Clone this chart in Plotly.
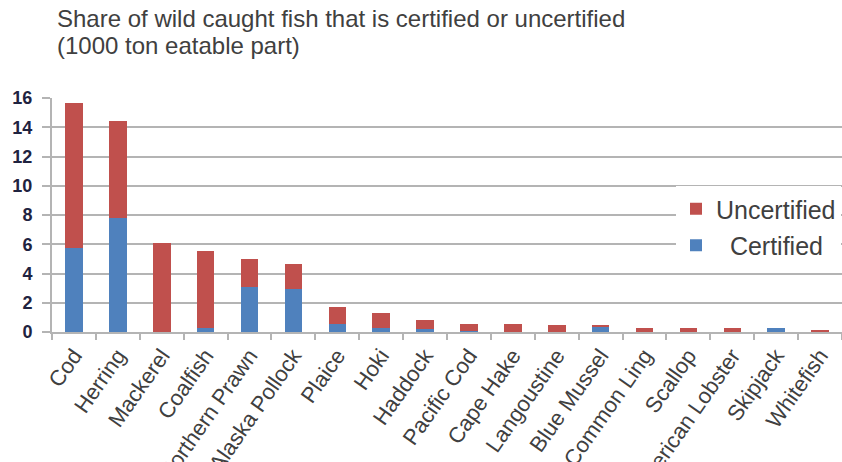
import plotly.graph_objects as go

# Wild caught fish, 1000 ton eatable part
species = ["Cod", "Herring", "Mackerel", "Coalfish", "Northern Prawn",
           "Alaska Pollock", "Plaice", "Hoki", "Haddock", "Pacific Cod",
           "Cape Hake", "Langoustine", "Blue Mussel", "Common Ling",
           "Scallop", "American Lobster", "Skipjack", "Whitefish"]
certified = [5.75, 7.8, 0.0, 0.3, 3.05, 2.95, 0.55, 0.3, 0.2, 0.05,
             0.0, 0.0, 0.4, 0.0, 0.0, 0.0, 0.3, 0.0]
uncertified = [9.9, 6.6, 6.1, 5.25, 1.95, 1.7, 1.15, 1.0, 0.6, 0.5,
               0.55, 0.45, 0.06, 0.3, 0.3, 0.28, 0.0, 0.08]
y_ticks = [0, 2, 4, 6, 8, 10, 12, 14, 16]

RED = "#C0504D"
BLUE = "#4F81BD"
GRID = "#B4B4B4"
TEXT = "#404040"
FONT = "Liberation Sans, Arial, sans-serif"

W, H = 842, 462
ML, MR, MT, MB = 52, 0, 98, 130
plot_w = W - ML - MR
plot_h = H - MT - MB

fig = go.Figure()
fig.add_trace(go.Bar(x=species, y=certified, name="\u00a0\u00a0Certified",
                     marker=dict(color=BLUE, line=dict(width=0)),
                     legendgroup="c", legendrank=2))
fig.add_trace(go.Bar(x=species, y=uncertified, name="Uncertified",
                     marker=dict(color=RED, line=dict(width=0)),
                     legendgroup="u", legendrank=1))

fig.update_layout(
    width=W, height=H,
    margin=dict(l=ML, r=MR, t=MT, b=MB, autoexpand=False),
    paper_bgcolor="white", plot_bgcolor="white",
    barmode="stack", bargap=0.6,
    font=dict(family=FONT, color=TEXT),
    showlegend=True,
    legend=dict(
        x=(676 - ML) / plot_w, y=(MT + plot_h - 186) / plot_h,
        xanchor="left", yanchor="top",
        bgcolor="white", borderwidth=0,
        traceorder="grouped", tracegroupgap=1,
        font=dict(size=25, color=TEXT, family=FONT),
    ),
    xaxis=dict(
        type="category", categoryorder="array", categoryarray=species,
        range=[-0.5, len(species) - 0.5],
        showline=True, linecolor=GRID, linewidth=2,
        ticks="outside", tickson="boundaries", ticklen=6,
        tickcolor=GRID, tickwidth=2,
        tickangle=-55, automargin=False,
        tickfont=dict(size=22, color=TEXT, family=FONT),
        showgrid=False,
    ),
    yaxis=dict(
        range=[0, 16], tickvals=y_ticks,
        showline=True, linecolor=GRID, linewidth=2,
        ticks="outside", ticklen=8, tickcolor=GRID, tickwidth=2,
        ticklabelstandoff=6,
        showgrid=True, gridcolor=GRID, gridwidth=2,
        zeroline=False, automargin=False,
        tickfont=dict(size=18, color="#1F2340", family=FONT, weight="bold"),
    ),
)

# two-line chart title placed above the plot area
title_lines = ["Share of wild caught fish that is certified or uncertified",
               "(1000 ton eatable part)"]
for i, line in enumerate(title_lines):
    fig.add_annotation(
        text=line, showarrow=False,
        xref="paper", yref="paper",
        x=(55 - ML) / plot_w, y=1 + (MT - (19 + 27 * i)) / plot_h,
        xanchor="left", yanchor="middle",
        font=dict(size=24, color=TEXT, family=FONT),
    )

fig.write_html("out.html")
